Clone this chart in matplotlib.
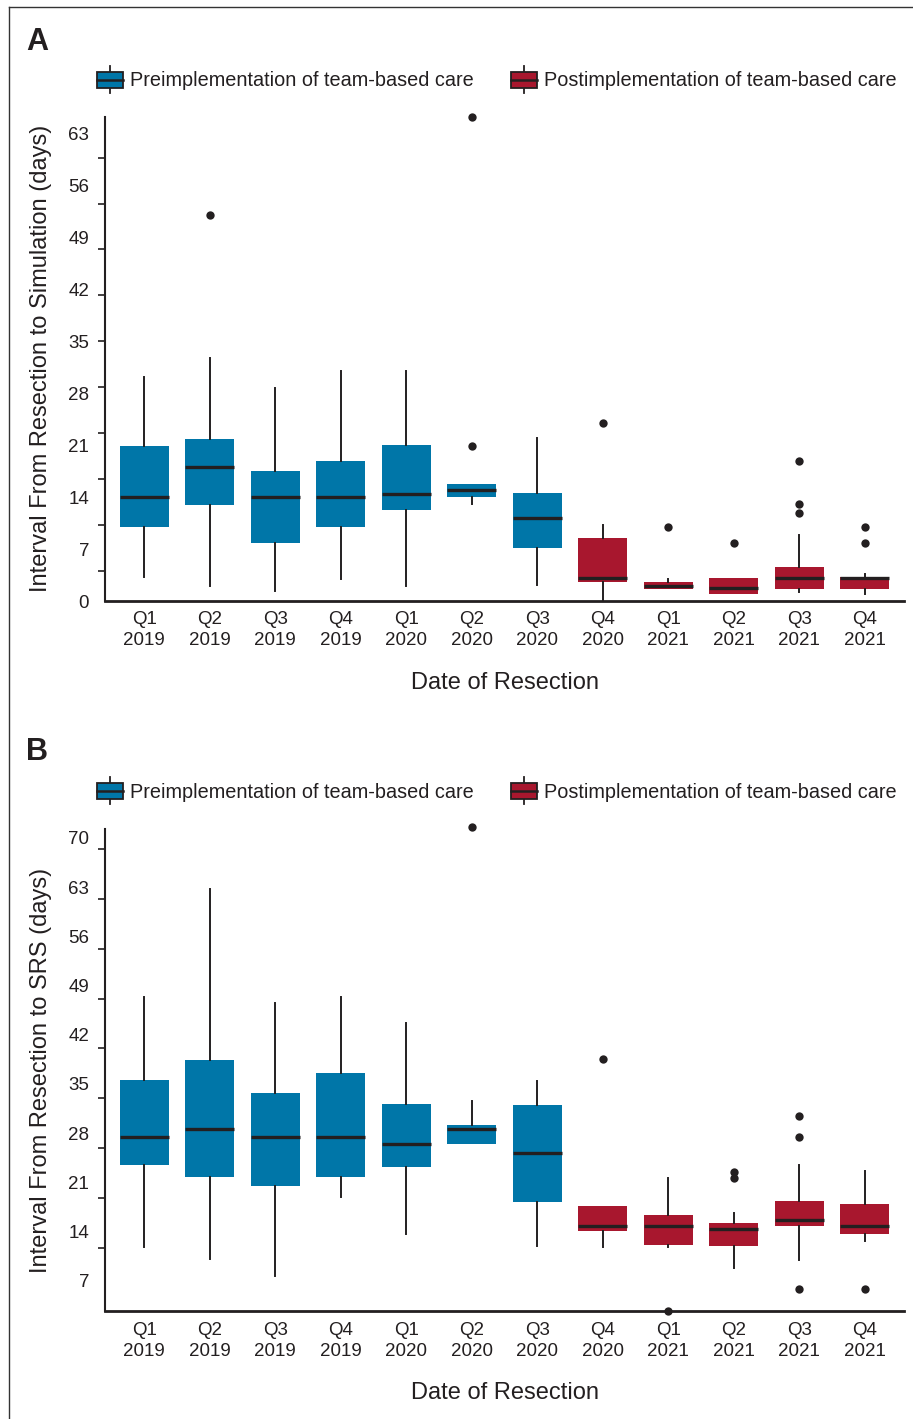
import numpy as np
import matplotlib
matplotlib.use('Agg')
import matplotlib.pyplot as plt
from matplotlib.patches import Patch, Rectangle
from matplotlib.lines import Line2D
from matplotlib.legend_handler import HandlerBase
from matplotlib.transforms import blended_transform_factory

plt.rcParams['font.family'] = ['Liberation Sans', 'DejaVu Sans']
plt.rcParams['text.color'] = '#231f20'

quarters = ['Q1\n2019', 'Q2\n2019', 'Q3\n2019', 'Q4\n2019', 'Q1\n2020', 'Q2\n2020',
            'Q3\n2020', 'Q4\n2020', 'Q1\n2021', 'Q2\n2021', 'Q3\n2021', 'Q4\n2021']
n_pre = 7  # first 7 quarters before team-based care

# panel A: resection -> simulation (days)
a_med = [14.0, 18.1, 14.0, 14.0, 14.4, 14.9, 11.2, 3.1, 2.0, 1.7, 3.1, 3.1]
a_q1 = [9.9, 12.9, 7.8, 9.9, 12.3, 14.0, 7.2, 2.6, 1.65, 1.0, 1.65, 1.65]
a_q3 = [20.8, 21.8, 17.5, 18.9, 21.0, 15.7, 14.6, 8.5, 2.55, 3.1, 4.6, 3.2]
a_lo = [3.2, 2.0, 1.3, 2.9, 2.0, 13.0, 2.1, 0.0, 1.6, 1.0, 1.2, 1.0]
a_hi = [30.1, 32.7, 28.7, 30.9, 30.9, 15.8, 21.9, 10.2, 3.0, 3.1, 8.9, 3.7]
a_out = [[], [52.0], [], [], [], [65.1, 20.9], [], [23.9], [10.0], [7.8],
         [18.8, 13.0, 11.9], [10.0, 7.8]]

# panel B: resection -> SRS (days)
b_med = [27.5, 28.6, 27.5, 27.5, 26.5, 28.6, 25.2, 14.8, 14.8, 14.3, 15.6, 14.8]
b_q1 = [23.4, 21.8, 20.5, 21.8, 23.2, 26.5, 18.2, 14.1, 12.1, 12.0, 14.8, 13.7]
b_q3 = [35.6, 38.4, 33.7, 36.5, 32.1, 29.2, 32.0, 17.6, 16.4, 15.2, 18.3, 17.9]
b_lo = [11.8, 10.1, 7.7, 18.9, 13.7, 26.4, 12.0, 11.8, 11.8, 8.8, 9.9, 12.7]
b_hi = [47.3, 62.7, 46.5, 47.3, 43.6, 32.6, 35.4, 17.7, 21.6, 16.7, 23.5, 22.6]
b_out = [[], [], [], [], [], [71.5], [], [38.5], [2.7], [22.5, 21.6],
         [30.4, 27.5, 5.8], [5.8]]

blue = '#0076a8'
red = '#a8172e'
ink = '#231f20'
W, H = 913, 1419

fig = plt.figure(figsize=(W / 100, H / 100), dpi=100)


class BoxIcon(HandlerBase):
    def create_artists(self, legend, orig_handle, xdescent, ydescent,
                       width, height, fontsize, trans):
        x0, y0 = -xdescent, -ydescent
        cx = x0 + width / 2
        wh = Line2D([cx, cx], [y0 - 0.35 * height, y0 + 1.35 * height],
                    color=ink, lw=1.3, transform=trans)
        box = Rectangle((x0, y0), width, height, facecolor=orig_handle.get_facecolor(),
                        edgecolor=ink, lw=1.3, transform=trans)
        med = Line2D([x0, x0 + width], [y0 + height / 2] * 2, color=ink, lw=1.8,
                     transform=trans)
        return [wh, box, med]


def panel(rect, med, q1, q3, lo, hi, out, ylim, yticks, minor, ylabel, letter, legend_y, letter_y):
    ax = fig.add_axes(rect)
    stats = []
    for i in range(len(quarters)):
        stats.append(dict(med=med[i], q1=q1[i], q3=q3[i], whislo=lo[i], whishi=hi[i],
                          fliers=out[i]))
    parts = ax.bxp(stats, positions=range(len(quarters)), widths=0.75, patch_artist=True,
                   showcaps=False,
                   boxprops=dict(linewidth=0),
                   medianprops=dict(color=ink, linewidth=2.4, solid_capstyle='butt'),
                   whiskerprops=dict(color=ink, linewidth=1.4),
                   flierprops=dict(marker='o', markerfacecolor=ink, markeredgecolor='none',
                                   markersize=6))
    for i, b in enumerate(parts['boxes']):
        b.set_facecolor(blue if i < n_pre else red)
    for f in parts['fliers']:
        f.set_clip_on(False)
    ax.set_xlim(-0.6, 11.6)
    ax.set_ylim(*ylim)
    ax.set_xticks(range(len(quarters)))
    ax.set_xticklabels(quarters, fontsize=13.5, color=ink, linespacing=1.3)
    ax.set_yticks(yticks)
    ax.set_yticklabels([str(v) for v in yticks], fontsize=13.5, color=ink)
    ax.set_yticks(minor, minor=True)
    ax.tick_params(axis='x', length=0, pad=7.5)
    ax.tick_params(axis='y', which='major', length=0, pad=11.5)
    ax.tick_params(axis='y', which='minor', length=5, width=1.2, color=ink)
    for s in ['top', 'right']:
        ax.spines[s].set_visible(False)
    ax.spines['left'].set_linewidth(1.5)
    ax.spines['bottom'].set_linewidth(2.0)
    ax.spines['left'].set_color(ink)
    ax.spines['bottom'].set_color(ink)
    ax.set_xlabel('Date of Resection', fontsize=17, color=ink, labelpad=16)
    ax.set_ylabel(ylabel, fontsize=17, color=ink)
    ax.yaxis.set_label_coords(52 / W, 0.5,
                              transform=blended_transform_factory(fig.transFigure, ax.transAxes))
    fig.text(37 / W, 1 - letter_y / H, letter, fontsize=22, fontweight='bold', color=ink,
             ha='center', va='center')
    handles = [Patch(facecolor=blue, label='Preimplementation of team-based care'),
               Patch(facecolor=red, label='Postimplementation of team-based care')]
    fig.legend(handles=handles, handler_map={Patch: BoxIcon()}, loc='center left',
               bbox_to_anchor=(97 / W, 1 - legend_y / H), bbox_transform=fig.transFigure,
               ncol=2, frameon=False, fontsize=14.3, borderpad=0, borderaxespad=0,
               handlelength=1.3, handleheight=0.86, handletextpad=0.35,
               columnspacing=1.9)
    return ax


ax_a = panel([105 / W, 1 - 601 / H, 799 / W, 484.3 / H],
             a_med, a_q1, a_q3, a_lo, a_hi, a_out,
             (0.2, 65.2), list(range(0, 64, 7)), np.linspace(4.0, 59.7, 10),
             'Interval From Resection to Simulation (days)', 'A', 81, 42)
ax_b = panel([105 / W, 1 - 1311.3 / H, 799 / W, 482.6 / H],
             b_med, b_q1, b_q3, b_lo, b_hi, b_out,
             (2.65, 71.3), list(range(7, 71, 7)), np.linspace(11.7, 68.4, 9),
             'Interval From Resection to SRS (days)', 'B', 792, 752)

# thin frame round the figure
fig.add_artist(Line2D([9 / W, 9 / W], [0, 1 - 7 / H], transform=fig.transFigure,
                      color='#333333', lw=1.0))
fig.add_artist(Line2D([9 / W, 1], [1 - 7 / H, 1 - 7 / H], transform=fig.transFigure,
                      color='#333333', lw=1.0))

fig.savefig('out.png', dpi=100)
